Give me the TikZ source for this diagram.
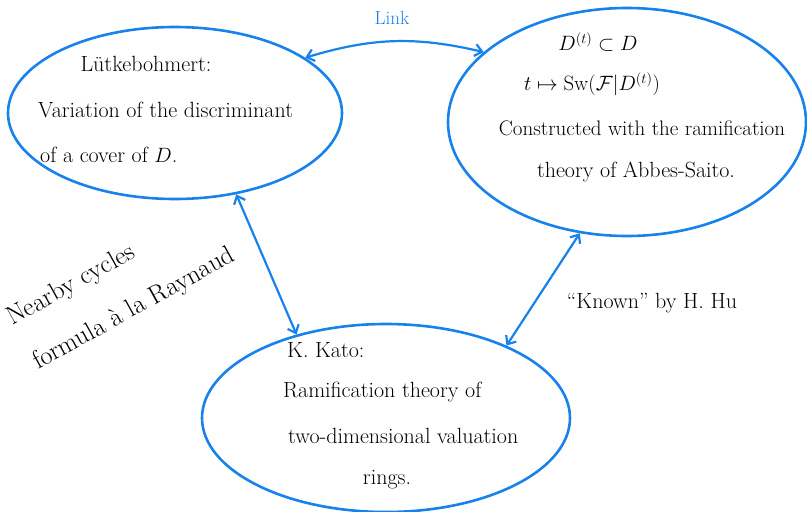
\documentclass[tikz,border=0pt]{standalone}
\usetikzlibrary{shapes.geometric,arrows.meta}
\definecolor{pen}{RGB}{24,130,236}
\begin{document}
\begin{tikzpicture}[x=1pt,y=-1pt,
  bubble/.style={ellipse,draw=pen,line width=2.6pt,inner sep=0pt},
  link/.style={draw=pen,line width=2.2pt,{Straight Barb[length=7pt,width=12pt]}-{Straight Barb[length=7pt,width=12pt]}},
  txt/.style={font=\fontsize{22}{24}\selectfont,inner sep=0pt},
  big/.style={font=\fontsize{26}{28}\selectfont,inner sep=0pt,rotate=29,anchor=base west}]
\useasboundingbox (0,0) rectangle (807,512);
\node[bubble,minimum width=334pt,minimum height=172pt] (L) at (175,113) {};
\node[bubble,minimum width=358pt,minimum height=228pt] (R) at (627,122) {};
\node[bubble,minimum width=368pt,minimum height=188pt] (B) at (386,418) {};

\draw[link] (L.23) to[bend left=15] (R.154);
\draw[link] (L.-53) -- (B.137);
\draw[link] (R.-113) -- (B.31);

\node[font=\fontsize{19}{21}\selectfont,text=pen,inner sep=0pt] (lk) at (392,18) {Link};

\node[txt] (l1) at (146,64) {Lütkebohmert:};
\node[txt,anchor=west] (l2) at (38,110) {Variation of the discriminant};
\node[txt,anchor=west] (l3) at (40,155) {of a cover of $D$.};

\node[txt] (r1) at (598,42) {$D^{(t)}\subset D$};
\node[txt] (r2) at (592,84) {$t\mapsto \mathrm{Sw}(\mathcal{F}|D^{(t)})$};
\node[txt,font=\fontsize{21}{23}\selectfont] (r3) at (642,128) {Constructed with the ramification};
\node[txt] (r4) at (636,172) {theory of Abbes-Saito.};

\node[txt,anchor=west] (b1) at (287,350) {K. Kato:};
\node[txt,anchor=west] (b2) at (283,392) {Ramification theory of};
\node[txt,anchor=west] (b3) at (288,436) {two-dimensional valuation};
\node[txt] (b4) at (387,480) {rings.};

\node[big] (n1) at (12,326) {Nearby cycles};
\node[big] (n2) at (38,370) {formula à la Raynaud};

\node[txt] (k) at (652,303) {``Known'' by H. Hu};
\end{tikzpicture}
\end{document}
